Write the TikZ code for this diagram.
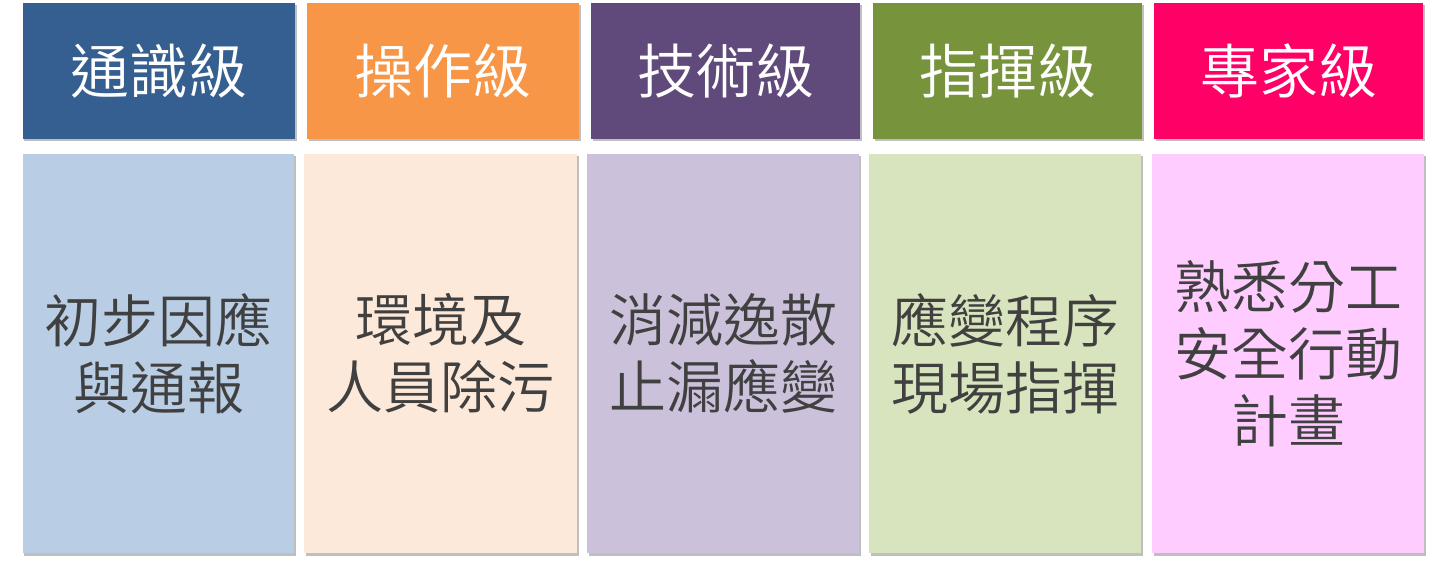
\documentclass[tikz,border=0pt]{standalone}
\usepackage{fontspec}
\setmainfont{Noto Sans CJK TC}[UprightFont=* DemiLight]
\usetikzlibrary{shadows}
\definecolor{hA}{HTML}{355F91}
\definecolor{hB}{HTML}{F79646}
\definecolor{hC}{HTML}{604A7B}
\definecolor{hD}{HTML}{77933C}
\definecolor{hE}{HTML}{FF0066}
\definecolor{bA}{HTML}{B9CDE5}
\definecolor{bB}{HTML}{FDE9D9}
\definecolor{bC}{HTML}{CCC1DA}
\definecolor{bD}{HTML}{D7E4BD}
\definecolor{bE}{HTML}{FFCCFF}
\definecolor{txt}{HTML}{404040}
\tikzset{
  shadowed/.style={drop shadow={shadow xshift=1.5bp, shadow yshift=-2.5bp, opacity=0.25, fill=black}},
  headbox/.style={shadowed, draw=none, inner sep=0pt, minimum height=136bp, text=white,
    font=\fontsize{59bp}{66bp}\selectfont},
  bodybox/.style={shadowed, draw=none, inner sep=0pt, minimum height=399bp, text=txt, align=center,
    font=\fontsize{57bp}{67bp}\selectfont}
}
\begin{document}
\begin{tikzpicture}[x=1bp,y=-1bp]
\useasboundingbox (0,0) rectangle (1447,565);
\fill[white] (0,0) rectangle (1447,565);
% headers
\node[headbox, fill=hA, minimum width=272bp] (h1) at (159,71) {通識級};
\node[headbox, fill=hB, minimum width=272bp] (h2) at (443,71) {操作級};
\node[headbox, fill=hC, minimum width=269bp] (h3) at (725.5,71) {技術級};
\node[headbox, fill=hD, minimum width=269bp] (h4) at (1007.5,71) {指揮級};
\node[headbox, fill=hE, minimum width=269bp] (h5) at (1288.5,71) {專家級};
% bodies
\node[bodybox, fill=bA, minimum width=271bp] (b1) at (158.5,353.5) {初步因應\\與通報};
\node[bodybox, fill=bB, minimum width=273bp] (b2) at (440.5,353.5) {環境及\\人員除污};
\node[bodybox, fill=bC, minimum width=272bp] (b3) at (723,353.5) {消減逸散\\止漏應變};
\node[bodybox, fill=bD, minimum width=272bp] (b4) at (1005,353.5) {應變程序\\現場指揮};
\node[bodybox, fill=bE, minimum width=272bp] (b5) at (1288,353.5) {熟悉分工\\安全行動\\計畫};
\end{tikzpicture}
\end{document}
